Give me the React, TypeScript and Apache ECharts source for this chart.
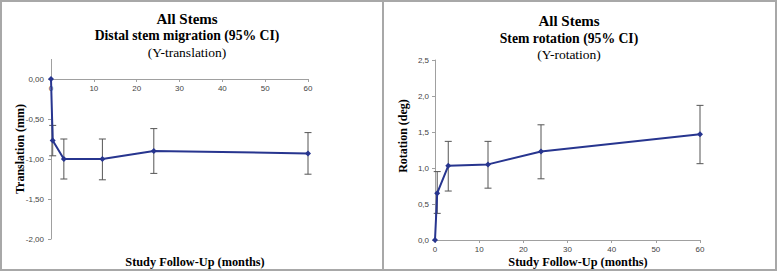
import React, { useEffect, useRef } from "react";
import * as echarts from "echarts";

// Left chart: distal stem migration (Y-translation, mm)
const leftMonths = [0, 0.4, 3, 12, 24, 60];
const leftMean = [0, -0.77, -1.0, -1.0, -0.9, -0.93];
const leftLow = [null, -0.96, -1.25, -1.26, -1.18, -1.19];
const leftHigh = [null, -0.58, -0.75, -0.75, -0.62, -0.67];

// Right chart: stem rotation (Y-rotation, deg)
const rightMonths = [0, 0.5, 3, 12, 24, 60];
const rightMean = [0, 0.65, 1.03, 1.05, 1.23, 1.47];
const rightLow = [null, 0.37, 0.68, 0.72, 0.85, 1.06];
const rightHigh = [null, 0.95, 1.37, 1.37, 1.6, 1.87];

const leftTitles = ["All Stems", "Distal stem migration (95% CI)", "(Y-translation)"];
const rightTitles = ["All Stems", "Stem rotation (95% CI)", "(Y-rotation)"];
const xAxisName = "Study Follow-Up (months)";
const leftYName = "Translation (mm)";
const rightYName = "Rotation (deg)";

const LINE = "#27358f";
const ERR = "#555555";
const AXIS = "#a0a0a0";
const SERIF = "'Liberation Serif', 'Times New Roman', serif";
const SANS = "'Liberation Sans', Arial, sans-serif";

function errData(months: number[], low: (number | null)[], high: (number | null)[]) {
  const out: number[][] = [];
  months.forEach((m, i) => {
    if (low[i] != null && high[i] != null) out.push([m, low[i] as number, high[i] as number]);
  });
  return out;
}

function errRender(params: any, api: any) {
  const x = api.value(0);
  const lo = api.coord([x, api.value(1)]);
  const hi = api.coord([x, api.value(2)]);
  const w = 3.5;
  const style = { stroke: ERR, lineWidth: 1 };
  return {
    type: "group",
    children: [
      { type: "line", shape: { x1: lo[0], y1: lo[1], x2: hi[0], y2: hi[1] }, style },
      { type: "line", shape: { x1: lo[0] - w, y1: lo[1], x2: lo[0] + w, y2: lo[1] }, style },
      { type: "line", shape: { x1: hi[0] - w, y1: hi[1], x2: hi[0] + w, y2: hi[1] }, style },
    ],
  };
}

function fmtComma(v: number, d: number) {
  return v.toFixed(d).replace(".", ",");
}

export default function App() {
  const ref = useRef<HTMLDivElement>(null);
  useEffect(() => {
    if (!ref.current) return;
    const chart = echarts.init(ref.current, undefined, { renderer: "svg" });
    const titleText = (cx: number, lines: string[], ys: number[]) => [
      { type: "text", x: cx, y: ys[0], style: { text: lines[0], font: `bold 15px ${SERIF}`, fill: "#000", align: "center", verticalAlign: "middle" } },
      { type: "text", x: cx, y: ys[1], style: { text: lines[1], font: `bold 13.7px ${SERIF}`, fill: "#000", align: "center", verticalAlign: "middle" } },
      { type: "text", x: cx, y: ys[2], style: { text: lines[2], font: `13.5px ${SERIF}`, fill: "#000", align: "center", verticalAlign: "middle" } },
    ];
    const lbl = { fontFamily: SANS, fontSize: 8, color: "#444" };
    const option: any = {
      animation: false,
      backgroundColor: "#fff",
      grid: [
        { left: 51, top: 79, width: 257, height: 160 },
        { left: 435, top: 60, width: 265, height: 180 },
      ],
      xAxis: [
        {
          gridIndex: 0, type: "value", min: 0, max: 60, interval: 10, position: "top",
          axisLine: { onZero: false, lineStyle: { color: AXIS, width: 1 } },
          axisTick: { inside: true, length: 3, lineStyle: { color: AXIS } },
          axisLabel: { ...lbl, inside: true, margin: 5 },
          splitLine: { show: false },
        },
        {
          gridIndex: 1, type: "value", min: 0, max: 60, interval: 10,
          axisLine: { onZero: false, lineStyle: { color: AXIS, width: 1 } },
          axisTick: { length: 3, lineStyle: { color: AXIS } },
          axisLabel: { ...lbl, margin: 5 },
          splitLine: { show: false },
        },
      ],
      yAxis: [
        {
          gridIndex: 0, type: "value", min: -2, max: 0, interval: 0.5,
          axisLine: { show: true, onZero: false, lineStyle: { color: AXIS, width: 1 } },
          axisTick: { show: true, length: 3, lineStyle: { color: AXIS } },
          axisLabel: { ...lbl, margin: 7, formatter: (v: number) => fmtComma(v, 2) },
          splitLine: { show: false },
        },
        {
          gridIndex: 1, type: "value", min: 0, max: 2.5, interval: 0.5,
          axisLine: { show: true, onZero: false, lineStyle: { color: AXIS, width: 1 } },
          axisTick: { show: true, length: 3, lineStyle: { color: AXIS } },
          axisLabel: { ...lbl, margin: 6, formatter: (v: number) => fmtComma(v, 1) },
          splitLine: { show: false },
        },
      ],
      series: [
        {
          type: "custom", xAxisIndex: 0, yAxisIndex: 0, z: 1,
          renderItem: errRender, encode: { x: 0, y: [1, 2] },
          data: errData(leftMonths, leftLow, leftHigh),
        },
        {
          type: "line", xAxisIndex: 0, yAxisIndex: 0, z: 3, clip: false,
          data: leftMonths.map((m, i) => [m, leftMean[i]]),
          symbol: "diamond", symbolSize: 6, showSymbol: true,
          lineStyle: { color: LINE, width: 2 }, itemStyle: { color: LINE },
        },
        {
          type: "custom", xAxisIndex: 1, yAxisIndex: 1, z: 1,
          renderItem: errRender, encode: { x: 0, y: [1, 2] },
          data: errData(rightMonths, rightLow, rightHigh),
        },
        {
          type: "line", xAxisIndex: 1, yAxisIndex: 1, z: 3, clip: false,
          data: rightMonths.map((m, i) => [m, rightMean[i]]),
          symbol: "diamond", symbolSize: 6, showSymbol: true,
          lineStyle: { color: LINE, width: 2 }, itemStyle: { color: LINE },
        },
      ],
      graphic: [
        { type: "rect", shape: { x: 1, y: 1, width: 775, height: 269 }, style: { fill: "none", stroke: "#a8a8a8", lineWidth: 2 } },
        { type: "line", shape: { x1: 383, y1: 1, x2: 383, y2: 270 }, style: { stroke: "#a8a8a8", lineWidth: 2 } },
        { type: "line", z: 0, shape: { x1: 51.5, y1: 59, x2: 51.5, y2: 79 }, style: { stroke: AXIS, lineWidth: 1 } },
        ...titleText(187, leftTitles, [19, 35, 52]),
        ...titleText(569, rightTitles, [21, 38, 54]),
        { type: "text", x: 195, y: 262, style: { text: xAxisName, font: `bold 12.3px ${SERIF}`, fill: "#000", align: "center", verticalAlign: "middle" } },
        { type: "text", x: 578, y: 262, style: { text: xAxisName, font: `bold 12.3px ${SERIF}`, fill: "#000", align: "center", verticalAlign: "middle" } },
        { type: "text", x: 20, y: 149, rotation: Math.PI / 2, style: { text: leftYName, font: `bold 12px ${SERIF}`, fill: "#000", align: "center", verticalAlign: "middle" } },
        { type: "text", x: 403, y: 136, rotation: Math.PI / 2, style: { text: rightYName, font: `bold 12px ${SERIF}`, fill: "#000", align: "center", verticalAlign: "middle" } },
      ],
    };
    chart.setOption(option);
    return () => chart.dispose();
  }, []);
  return (
    <div
      ref={ref}
      style={{ position: "absolute", left: 0, top: 0, width: 778, height: 272 }}
    />
  );
}
